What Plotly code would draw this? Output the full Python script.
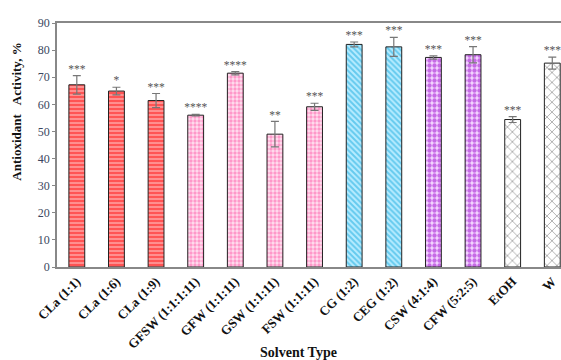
import plotly.graph_objects as go

# Antioxidant activity (%) by solvent system, mean ± error
solvents = ["CLa (1:1)", "CLa (1:6)", "CLa (1:9)", "GFSW (1:1:1:11)", "GFW (1:1:11)",
            "GSW (1:1:11)", "FSW (1:1:11)", "CG (1:2)", "CEG (1:2)", "CSW (4:1:4)",
            "CFW (5:2:5)", "EtOH", "W"]
activity = [67.2, 64.9, 61.4, 56.0, 71.5, 49.0, 59.1, 82.1, 81.2, 77.3, 78.3, 54.4, 75.2]
errors = [3.4, 1.4, 2.6, 0.3, 0.6, 4.7, 1.3, 0.9, 3.5, 0.6, 3.0, 1.1, 2.2]
significance = ["***", "*", "***", "****", "****", "**", "***", "***", "***", "***",
                "***", "***", "***"]

# fill style per solvent group: (pattern shape, background, foreground, size, solidity)
group_styles = {
    "CLa": ("-", "#ff8f8f", "#ff1a1a", 4, 0.5),
    "mix": (".", "#ffe0ef", "#ff4fa3", 4, 0.55),
    "C2": ("\\", "#b8ecff", "#12a8de", 4, 0.5),
    "CX": (".", "#f3d6ff", "#9a00cc", 5, 0.6),
    "ref": ("x", "#ffffff", "#333333", 7, 0.2),
}
groups = ["CLa", "CLa", "CLa", "mix", "mix", "mix", "mix", "C2", "C2", "CX", "CX", "ref", "ref"]

fig = go.Figure()
for name, val, err, grp in zip(solvents, activity, errors, groups):
    shape, bg, fg, size, sol = group_styles[grp]
    fig.add_trace(go.Bar(
        x=[name], y=[val], width=0.4,
        marker=dict(color=bg, line=dict(color="#222222", width=1),
                    pattern=dict(shape=shape, bgcolor=bg, fgcolor=fg, size=size,
                                 solidity=sol, fillmode="overlay")),
        error_y=dict(type="data", array=[err], color="#777777", thickness=1.2, width=4),
        showlegend=False,
    ))

# significance markers above each error bar
fig.add_trace(go.Scatter(
    x=solvents, y=[v + e for v, e in zip(activity, errors)],
    mode="text", text=significance, textposition="top center",
    textfont=dict(family="Liberation Serif", size=11.5, color="#555555"),
    showlegend=False, cliponaxis=False,
))

fig.update_layout(
    width=561, height=360,
    margin=dict(l=57, r=0, t=23, b=93),
    plot_bgcolor="white", paper_bgcolor="white",
    bargap=0.6,
    xaxis=dict(
        range=[-0.5, 12.22], tickangle=-45, showline=True, linecolor="#888888",
        linewidth=1.5, mirror=True, ticks="", showgrid=False,
        tickfont=dict(family="Liberation Serif", size=13, color="#111111", weight="bold"),
    ),
    yaxis=dict(
        range=[0, 90], dtick=10, showline=True, linecolor="#888888", linewidth=1.5,
        ticks="outside", ticklen=3, tickcolor="#888888", showgrid=False,
        tickfont=dict(family="Liberation Serif", size=12, color="#3a4660"),
    ),
    annotations=[
        dict(text="<b>Solvent Type</b>", xref="paper", yref="paper", x=0.48, y=-0.35,
             yanchor="middle", showarrow=False,
             font=dict(family="Liberation Serif", size=14, color="#111111")),
        dict(text="<b>Antioxidant   Activity, %</b>", xref="paper", yref="paper",
             x=-0.1, y=0.637, yanchor="middle", textangle=-90, showarrow=False,
             font=dict(family="Liberation Serif", size=13, color="#111111")),
    ],
)

fig.write_html("out.html")
